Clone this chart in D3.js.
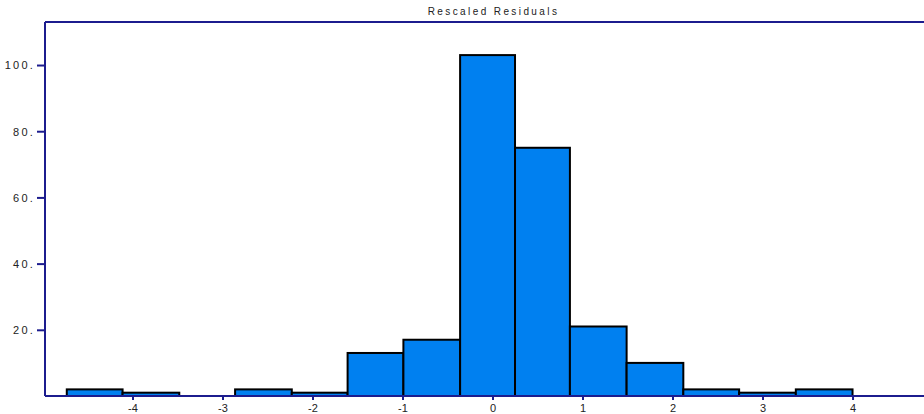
<!DOCTYPE html>
<html><head><meta charset="utf-8">
<script src="https://cdn.jsdelivr.net/npm/d3@7"></script>
<style>body{margin:0;background:#fff;} svg{display:block;font-family:"Liberation Sans",Arial,sans-serif;}</style>
</head><body>
<svg id="c" width="924" height="414"></svg>
<script>
const title = "Rescaled Residuals";
const binEdges = [-4.73, -4.11, -3.48, -2.86, -2.23, -1.61, -0.99, -0.36, 0.25, 0.86, 1.49, 2.12, 2.74, 3.37, 4.00];
const counts = [2, 1, 0, 2, 1, 13, 17, 103, 75, 21, 10, 2, 1, 2];
const xTicks = [-4, -3, -2, -1, 0, 1, 2, 3, 4];
const yTicks = [20, 40, 60, 80, 100];

const svg = d3.select("#c");
const L = 45, R = 924, T = 22, B = 396;
const x = d3.scaleLinear().domain([-4.972, 4.794]).range([L, R]);
const y = d3.scaleLinear().domain([0, 113]).range([B, T]);
const axisCol = "#1c1c8e";

const bins = counts.map((c, i) => ({x0: binEdges[i], x1: binEdges[i + 1], c}));

// bars
svg.append("g").selectAll("rect").data(bins.filter(d => d.c > 0)).join("rect")
  .attr("x", d => x(d.x0))
  .attr("y", d => y(d.c))
  .attr("width", d => x(d.x1) - x(d.x0))
  .attr("height", d => y(0) - y(d.c))
  .attr("fill", "#0080f0")
  .attr("stroke", "#000")
  .attr("stroke-width", 2);

// frame lines
svg.append("line").attr("x1", L).attr("x2", R).attr("y1", T).attr("y2", T)
  .attr("stroke", axisCol).attr("stroke-width", 2);

// y axis
const ya = svg.append("g").attr("transform", `translate(${L},0)`)
  .call(d3.axisLeft(y).tickValues(yTicks).tickSize(8).tickFormat(d => d + "."));
ya.select(".domain").attr("d", `M0,${T}V${B}`).attr("stroke", axisCol).attr("stroke-width", 2);
ya.selectAll(".tick line").attr("stroke", axisCol).attr("stroke-width", 2);
ya.selectAll(".tick text").attr("x", -10).attr("dy", "0.35em")
  .attr("font-size", 11).attr("fill", "#222").attr("letter-spacing", "2.2px")
  .attr("font-family", "Liberation Sans, Arial, sans-serif");

// x axis
const xa = svg.append("g").attr("transform", `translate(0,${B})`)
  .call(d3.axisBottom(x).tickValues(xTicks).tickSize(4).tickFormat(d => String(d)));
xa.select(".domain").attr("d", `M${L},0H${R}`).attr("stroke", axisCol).attr("stroke-width", 2);
xa.selectAll(".tick line").attr("stroke", axisCol).attr("stroke-width", 2);
xa.selectAll(".tick text").attr("y", 8).attr("dy", "0.71em")
  .attr("font-size", 11).attr("fill", "#222")
  .attr("font-family", "Liberation Sans, Arial, sans-serif");

// title
svg.append("text").attr("x", x(0) + 1).attr("y", 15).attr("text-anchor", "middle")
  .attr("font-size", 10).attr("letter-spacing", "2.4px").attr("fill", "#222")
  .text(title);
</script>
</body></html>
